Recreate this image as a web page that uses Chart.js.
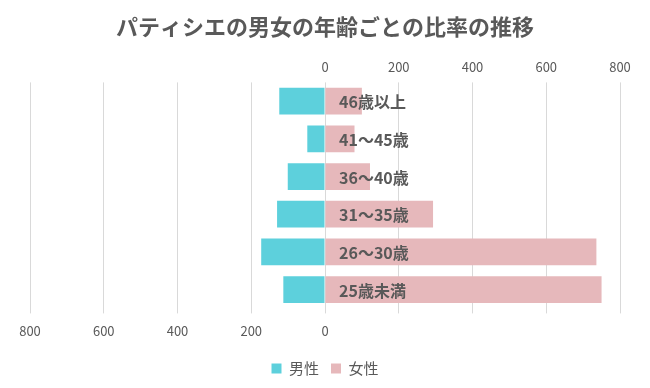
<!DOCTYPE html>
<html>
<head>
<meta charset="utf-8">
<script src="https://cdn.jsdelivr.net/npm/chart.js@4/dist/chart.umd.min.js"></script>
<style>
  html, body { margin: 0; padding: 0; background: #fff; }
  #wrap { width: 650px; height: 388px; position: relative; }
</style>
</head>
<body>
<div id="wrap"><canvas id="pyramid"></canvas></div>
<script>
// 年齢区分（上から順）
const ageLabels = ['46歳以上', '41〜45歳', '36〜40歳', '31〜35歳', '26〜30歳', '25歳未満'];
// 男性は左側に描くのでマイナスで持つ
const maleValues = [-124, -48, -101, -130, -173, -113];
const femaleValues = [100, 80, 122, 293, 736, 750];
const tickValues = [-800, -600, -400, -200, 0, 200, 400, 600, 800];

const textColor = '#595959';
const jpFont = '"Noto Sans CJK JP", "Noto Sans", sans-serif';

// 年齢ラベルを0の線のすぐ右に書く
const ageLabelPlugin = {
    id: 'ageLabels',
    afterDatasetsDraw(chart) {
        const ctx = chart.ctx;
        const x = chart.scales.x;
        const y = chart.scales.y;
        ctx.save();
        ctx.fillStyle = textColor;
        ctx.font = 'bold 16px ' + jpFont;
        ctx.textBaseline = 'middle';
        ctx.textAlign = 'left';
        ageLabels.forEach(function(lbl, i) {
            ctx.fillText(lbl, x.getPixelForValue(0) + 14, y.getPixelForValue(i) + 1);
        });
        ctx.restore();
    }
};

const ctx = document.getElementById('pyramid').getContext('2d');
new Chart(ctx, {
    type: 'bar',
    data: {
        labels: ageLabels,
        datasets: [{
            label: '男性',
            data: maleValues,
            backgroundColor: '#5dd0dc',
            barPercentage: 0.71,
            categoryPercentage: 1.0
        }, {
            label: '女性',
            data: femaleValues,
            backgroundColor: '#e6b8bb',
            barPercentage: 0.71,
            categoryPercentage: 1.0
        }]
    },
    options: {
        indexAxis: 'y',
        responsive: true,
        maintainAspectRatio: false,
        animation: false,
        layout: { padding: { left: 30, right: 30, top: 4, bottom: 2 } },
        scales: {
            x: {
                position: 'bottom',
                stacked: true,
                min: -800,
                max: 800,
                afterBuildTicks: function(axis) {
                    axis.ticks = tickValues.map(v => ({ value: v }));
                },
                border: { display: false },
                grid: { color: '#d9d9d9', lineWidth: 1, tickLength: 5, drawTicks: true },
                ticks: {
                    color: textColor,
                    font: { family: jpFont, size: 13 },
                    padding: 10,
                    maxRotation: 0,
                    callback: function(v) { return v <= 0 ? String(-v) : ''; }
                }
            },
            x2: {
                position: 'top',
                min: -800,
                max: 800,
                afterBuildTicks: function(axis) {
                    axis.ticks = tickValues.map(v => ({ value: v }));
                },
                border: { display: false },
                grid: { display: false, drawOnChartArea: false },
                ticks: {
                    color: textColor,
                    font: { family: jpFont, size: 13, lineHeight: 1.0 },
                    padding: 1,
                    maxRotation: 0,
                    callback: function(v) { return v >= 0 ? String(v) : ''; }
                }
            },
            y: {
                stacked: true,
                display: false
            }
        },
        plugins: {
            title: {
                display: true,
                text: 'パティシエの男女の年齢ごとの比率の推移',
                color: textColor,
                font: { family: jpFont, size: 22, weight: 'bold' },
                padding: { top: 9, bottom: 20 }
            },
            legend: {
                position: 'bottom',
                labels: {
                    color: textColor,
                    font: { family: jpFont, size: 15 },
                    boxWidth: 10,
                    boxHeight: 10,
                    padding: 12
                }
            },
            tooltip: { enabled: false }
        }
    },
    plugins: [ageLabelPlugin]
});
</script>
</body>
</html>
